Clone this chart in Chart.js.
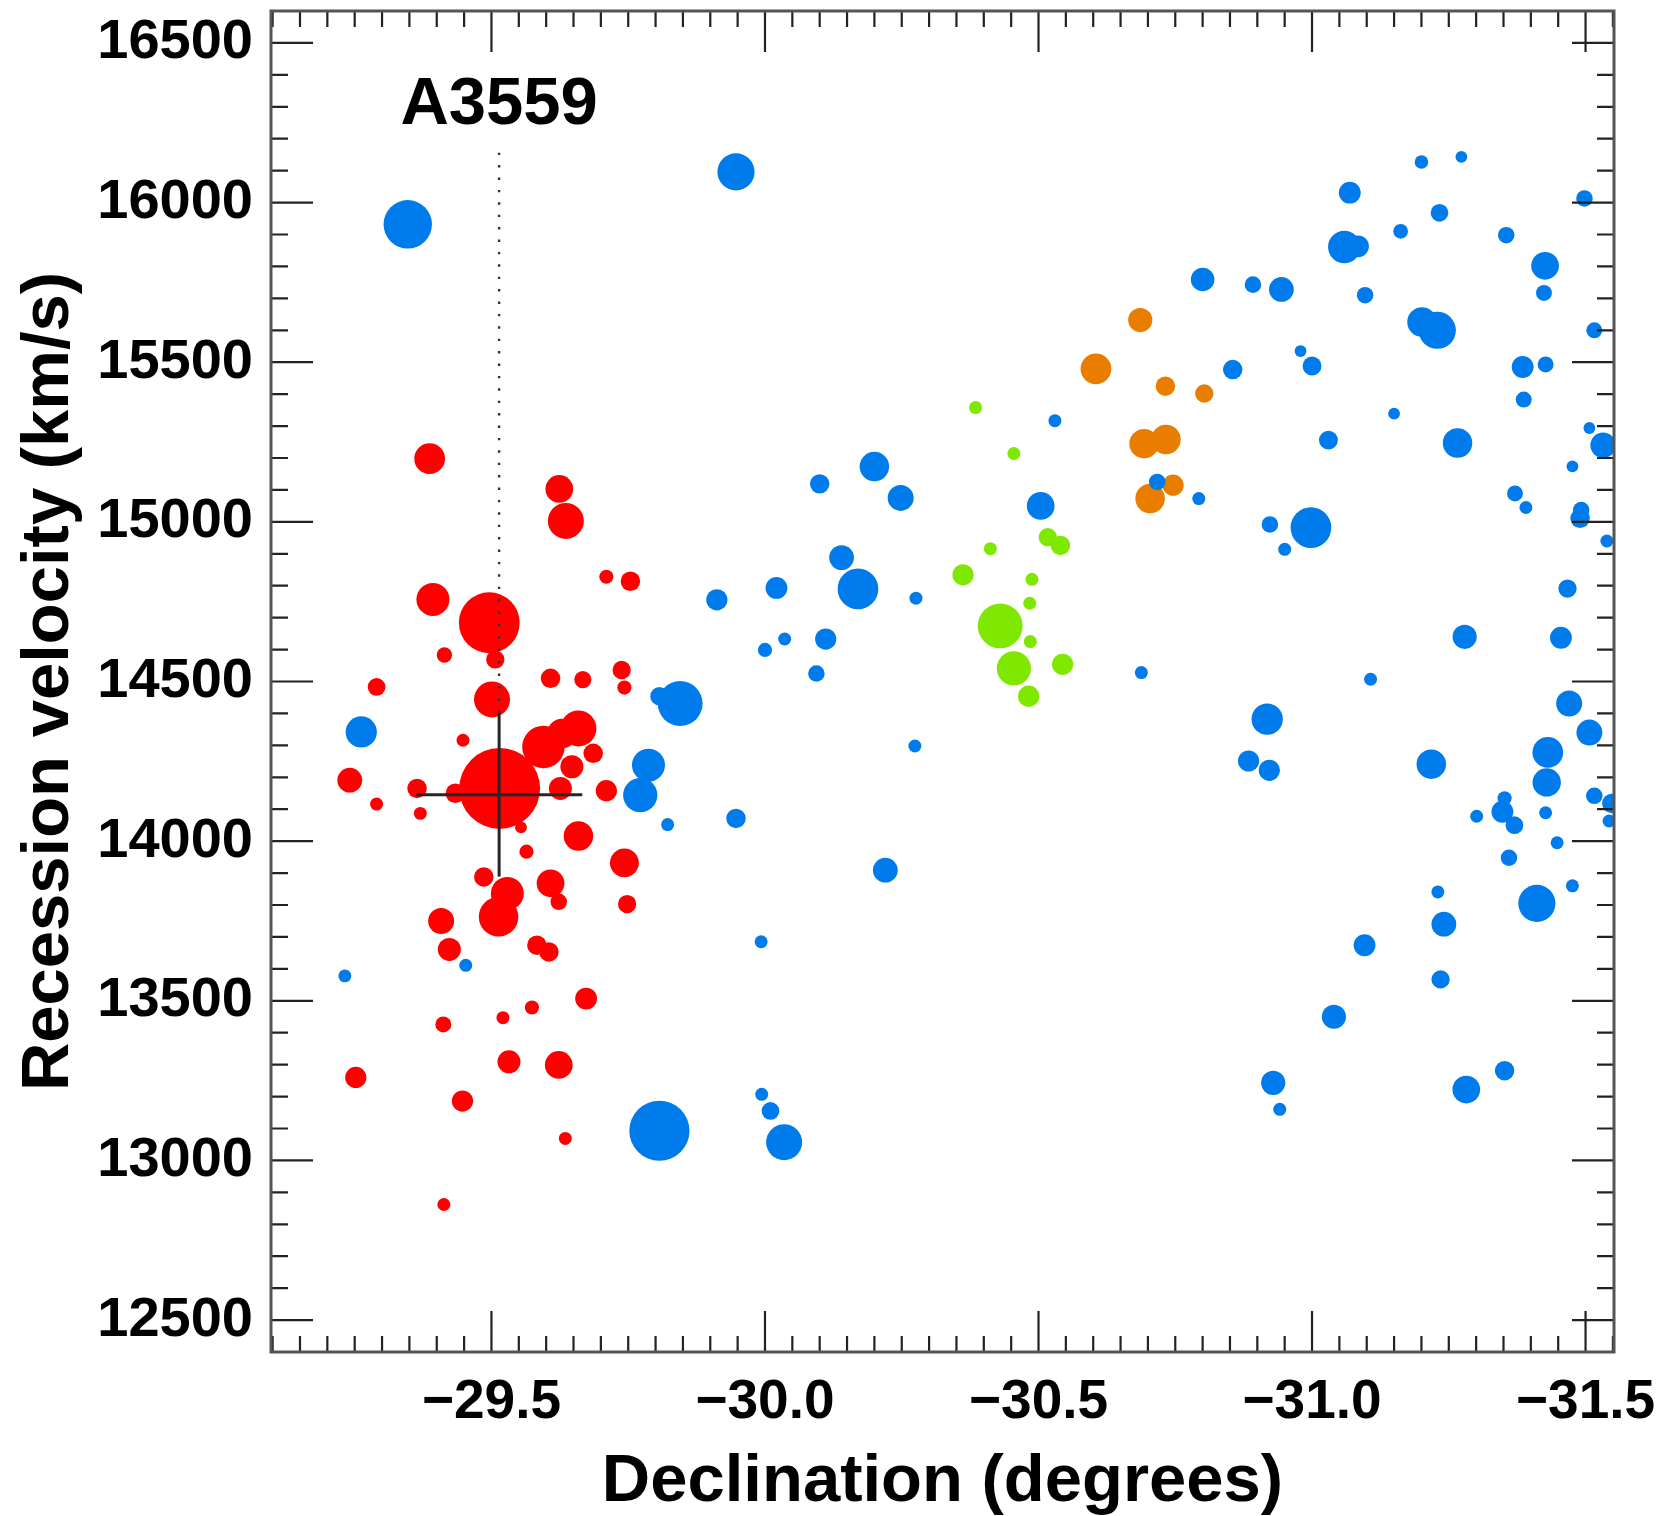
<!DOCTYPE html>
<html>
<head>
<meta charset="utf-8">
<script src="https://cdn.jsdelivr.net/npm/chart.js@4.4.1/dist/chart.umd.min.js"></script>
<style>
html,body{margin:0;padding:0;background:#fff;}
#wrap{width:1676px;height:1516px;}
</style>
</head>
<body>
<div id="wrap"><canvas id="c" width="1676" height="1516"></canvas></div>
<script>
// ---------------- DATA ----------------
const xTickValues = [-29.5, -30.0, -30.5, -31.0, -31.5];
const yTickValues = [12500, 13000, 13500, 14000, 14500, 15000, 15500, 16000, 16500];

// Cluster A3559 members (red)
const redDec = [-29.387,-29.624,-29.636,-29.710,-29.754,-29.393,-29.496,-29.507,-29.414,-29.290,
  -29.501,-29.608,-29.667,-29.738,-29.743,-29.448,-29.515,-29.659,-29.595,-29.629,
  -29.647,-29.686,-29.626,-29.710,-29.241,-29.364,-29.290,-29.370,-29.434,-29.554,
  -29.659,-29.564,-29.743,-29.486,-29.529,-29.608,-29.623,-29.748,-29.513,-29.408,
  -29.423,-29.583,-29.605,-29.673,-29.574,-29.521,-29.412,-29.532,-29.623,-29.252,
  -29.447,-29.635,-29.413];
const redVel = [15198,15103,15003,14828,14814,14757,14684,14569,14583,14483,
  14444,14510,14506,14536,14481,14316,14165,14353,14295,14337,
  14233,14275,14165,14158,14191,14165,14116,14087,14150,14043,
  14016,13967,13932,13888,13836,13868,13810,13803,13763,13750,
  13661,13674,13653,13507,13479,13447,13426,13309,13299,13260,
  13186,13069,12862];
const redWeight = [5.2,4.7,6.1,2.4,3.3,5.6,10.3,3.1,2.6,3.0,
  6.1,3.3,2.9,3.1,2.4,2.2,13.7,6.1,7.2,5.0,
  3.9,3.3,3.9,3.6,4.2,3.3,2.2,2.2,3.3,2.0,
  5.0,2.4,4.9,3.3,5.6,4.7,2.8,3.1,6.7,4.4,
  3.9,3.3,3.3,3.7,2.4,2.2,2.7,3.9,4.7,3.6,
  3.6,2.2,2.2];

// Field galaxies (blue)
const blueDec = [-29.347,-29.262,-29.845,-29.807,-30.094,-30.274,-29.787,-29.772,-29.822,-29.947,
  -30.220,-29.993,-29.994,-30.010,-30.035,-29.807,-29.453,-29.232,-29.947,-30.530,
  -30.200,-30.100,-30.248,-30.504,-30.276,-30.140,-30.170,-30.021,-29.912,-30.111,
  -30.036,-30.000,-30.855,-30.717,-30.793,-30.688,-31.200,-31.273,-31.069,-31.498,
  -31.233,-31.162,-31.355,-31.059,-31.084,-31.426,-31.424,-30.800,-30.892,-30.944,
  -31.097,-31.201,-31.229,-31.516,-30.979,-31.000,-31.385,-31.427,-31.387,-31.150,
  -31.507,-31.030,-31.266,-31.532,-31.476,-31.371,-31.391,-31.492,-31.490,-31.539,
  -30.923,-30.998,-30.950,-31.467,-31.279,-31.455,-31.107,-31.470,-30.918,-31.507,
  -31.431,-30.884,-30.922,-31.218,-31.429,-31.516,-31.548,-31.543,-31.352,-31.348,
  -31.370,-31.301,-31.427,-31.448,-31.360,-31.476,-31.411,-31.230,-31.241,-31.096,
  -31.235,-31.040,-30.929,-30.941,-31.282,-31.352];
const blueVel = [15932,14342,14431,14454,14525,14298,14238,14144,14052,14071,
  13909,13685,13207,13155,13057,13093,13611,13578,16096,15317,
  15173,15119,15075,15050,14761,14888,14790,14793,14756,14633,
  14633,14599,15477,15125,15073,14528,16127,16143,16031,16013,
  15968,15910,15898,15861,15863,15802,15717,15759,15743,15728,
  15710,15626,15600,15600,15535,15488,15485,15493,15383,15339,
  15294,15256,15247,15240,15174,15089,15045,15037,15011,14940,
  14992,14982,14914,14791,14640,14637,14507,14431,14382,14340,
  14278,14251,14222,14241,14184,14142,14118,14063,14134,14092,
  14050,14078,14089,13995,13948,13860,13805,13841,13740,13674,
  13567,13450,13243,13160,13222,13281];
const blueWeight = [8.2,5.3,7.6,3.1,2.8,2.2,5.6,5.8,2.2,3.3,
  4.2,2.2,2.2,3.0,6.1,10.2,2.2,2.2,6.3,2.2,
  5.0,3.3,4.4,4.7,2.2,4.2,6.9,3.7,3.6,3.6,
  2.2,2.4,3.3,2.8,2.2,2.2,2.3,2.0,3.7,2.8,
  3.0,2.5,2.8,5.5,3.7,4.7,2.7,4.0,2.8,4.2,
  2.8,5.0,6.3,2.7,2.0,3.2,3.7,2.7,2.7,2.0,
  2.0,3.2,5.0,4.3,2.0,2.7,2.2,2.8,3.3,2.2,
  2.8,6.9,2.2,3.1,4.1,3.7,2.2,4.4,5.3,4.4,
  5.2,3.6,3.6,5.0,4.8,2.8,3.3,2.2,2.4,3.7,
  3.0,2.2,2.2,2.2,2.8,2.2,6.3,2.2,4.2,3.7,
  3.1,4.1,4.1,2.2,4.7,3.3];

// Group (orange)
const orangeDec = [-30.686,-30.605,-30.732,-30.803,-30.693,-30.733,-30.746,-30.704];
const orangeVel = [15632,15479,15425,15402,15245,15258,15115,15073];
const orangeWeight = [4.1,5.2,3.3,3.1,5.0,5.0,3.6,5.0];

// Group (green)
const greenDec = [-30.385,-30.455,-30.517,-30.540,-30.412,-30.362,-30.488,-30.484,-30.430,-30.485,-30.455,-30.544,-30.482];
const greenVel = [15358,15214,14952,14926,14916,14834,14820,14745,14674,14625,14541,14554,14454];
const greenWeight = [2.2,2.2,3.1,3.3,2.2,3.6,2.2,2.2,7.6,2.2,5.8,3.6,3.6];

// A3559 centre and its spread, label position
const clusterName = 'A3559';
const clusterDec = -29.514;
const clusterVel = 14145;
const clusterDecErr = 0.152;
const clusterVelErr = 256;
const clusterLineTopVel = 16156;
const clusterLabelVel = 16305;

// ---------------- STYLE ----------------
const FONT = '"Liberation Sans", Arial, Helvetica, sans-serif';
const COL_RED = '#ff0000';
const COL_BLUE = '#007bec';
const COL_GREEN = '#7fe800';
const COL_ORANGE = '#e87d00';
const R_SCALE = 2.95;
const AREA_TOP = 11;

function pts(dec, vel) { return dec.map((d, i) => ({x: d, y: vel[i]})); }

function bubbleSet(label, dec, vel, w, color, order) {
  return {
    label, data: pts(dec, vel), order,
    backgroundColor: color, borderWidth: 0, pointBorderWidth: 0,
    pointRadius: ctx => R_SCALE * w[ctx.dataIndex],
    pointHoverRadius: ctx => R_SCALE * w[ctx.dataIndex],
    clip: 0
  };
}

const frameTicks = {
  id: 'frameTicks',
  afterLayout(chart) {
    // keep the plot frame top where the original figure has it
    const a = chart.chartArea;
    const y = chart.scales.y;
    a.top = AREA_TOP;
    a.height = a.bottom - a.top;
    y.top = AREA_TOP;
    y.height = y.bottom - y.top;
    y.configure();
  },
  afterDraw(chart) {
    const {ctx, chartArea: a, scales: {x, y}} = chart;
    ctx.save();
    ctx.strokeStyle = '#222';
    ctx.lineWidth = 2.2;
    ctx.beginPath();
    for (let v = 12400; v <= 16600; v += 100) {
      const py = y.getPixelForValue(v);
      const len = yTickValues.includes(v) ? 42 : 17;
      ctx.moveTo(a.left, py); ctx.lineTo(a.left + len, py);
      ctx.moveTo(a.right, py); ctx.lineTo(a.right - len, py);
    }
    for (let k = 582; k <= 631; k++) {
      const v = -k / 20;
      const px = x.getPixelForValue(v);
      const len = (k % 10 === 0) ? 41 : 16;
      ctx.moveTo(px, a.bottom); ctx.lineTo(px, a.bottom - len);
      ctx.moveTo(px, a.top); ctx.lineTo(px, a.top + len);
    }
    ctx.stroke();
    ctx.strokeStyle = '#555';
    ctx.lineWidth = 3;
    ctx.strokeRect(a.left, a.top, a.right - a.left, a.bottom - a.top);
    ctx.fillStyle = '#000';
    ctx.font = 'bold 67px ' + FONT;
    ctx.textAlign = 'center';
    ctx.textBaseline = 'middle';
    ctx.fillText(clusterName, x.getPixelForValue(clusterDec), y.getPixelForValue(clusterLabelVel));
    ctx.restore();
  }
};

const zeroPad = s => { s.paddingLeft = 0; s.paddingRight = 0; s.paddingTop = 0; s.paddingBottom = 0; };

new Chart(document.getElementById('c'), {
  type: 'scatter',
  data: {
    datasets: [
      { label: 'spread-dec', data: [{x: clusterDec - clusterDecErr, y: clusterVel}, {x: clusterDec + clusterDecErr, y: clusterVel}],
        showLine: true, borderColor: '#262626', borderWidth: 3, pointRadius: 0, order: 0 },
      { label: 'spread-vel', data: [{x: clusterDec, y: clusterVel - clusterVelErr}, {x: clusterDec, y: clusterVel + clusterVelErr}],
        showLine: true, borderColor: '#262626', borderWidth: 3, pointRadius: 0, order: 0 },
      { label: 'marker', data: [{x: clusterDec, y: clusterVel + clusterVelErr}, {x: clusterDec, y: clusterLineTopVel}],
        showLine: true, borderColor: '#333', borderWidth: 2.4, borderDash: [2.4, 10], pointRadius: 0, order: 0 },
      bubbleSet('blue', blueDec, blueVel, blueWeight, COL_BLUE, 1),
      bubbleSet('orange', orangeDec, orangeVel, orangeWeight, COL_ORANGE, 2),
      bubbleSet('green', greenDec, greenVel, greenWeight, COL_GREEN, 3),
      bubbleSet('red', redDec, redVel, redWeight, COL_RED, 4)
    ]
  },
  options: {
    responsive: false,
    animation: false,
    devicePixelRatio: 1,
    events: [],
    layout: { padding: { left: 0, right: 62, top: AREA_TOP, bottom: 0 } },
    plugins: { legend: { display: false }, tooltip: { enabled: false } },
    scales: {
      x: {
        type: 'linear', position: 'bottom', reverse: true,
        min: -31.552, max: -29.097,
        afterBuildTicks: s => { s.ticks = xTickValues.map(v => ({value: v})); },
        afterFit: s => { s.height = 164; zeroPad(s); },
        grid: { display: false, drawTicks: false },
        border: { display: false },
        ticks: {
          padding: 18, autoSkip: false, maxRotation: 0, color: '#000',
          font: { family: FONT, size: 55, weight: 'bold' },
          callback: v => (v < 0 ? '\u2212' : '') + Math.abs(v).toFixed(1)
        },
        title: { display: true, text: 'Declination (degrees)', color: '#000',
          font: { family: FONT, size: 67, weight: 'bold', lineHeight: 1.0 }, padding: { top: 0, bottom: 0 } }
      },
      y: {
        type: 'linear', position: 'left',
        min: 12400, max: 16600,
        afterBuildTicks: s => { s.ticks = yTickValues.map(v => ({value: v})); },
        afterFit: s => { s.width = 271; zeroPad(s); },
        grid: { display: false, drawTicks: false },
        border: { display: false },
        ticks: {
          padding: 18, autoSkip: false, color: '#000',
          font: { family: FONT, size: 56, weight: 'bold' },
          callback: v => String(v)
        },
        title: { display: true, text: 'Recession velocity (km/s)', color: '#000',
          font: { family: FONT, size: 67, weight: 'bold', lineHeight: 1.0 }, padding: { top: 16, bottom: 0 } }
      }
    }
  },
  plugins: [frameTicks]
});
</script>
</body>
</html>
